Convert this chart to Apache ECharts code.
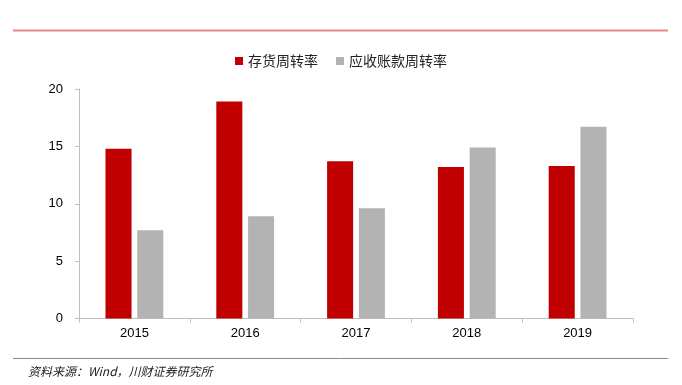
<!DOCTYPE html>
<html>
<head>
<meta charset="utf-8">
<script src="https://cdn.jsdelivr.net/npm/echarts@6/dist/echarts.min.js"></script>
<style>html,body{margin:0;padding:0;background:#fff}#c{width:682px;height:385px}</style>
</head>
<body>
<div id="c"></div>
<script>
var categories = ['2015', '2016', '2017', '2018', '2019'];
var inventoryTurnover = [14.8, 18.9, 13.7, 13.2, 13.3];
var receivableTurnover = [7.7, 8.9, 9.6, 14.9, 16.7];
var seriesNames = ['存货周转率', '应收账款周转率'];
var yTicks = { min: 0, max: 20, interval: 5 };
var sourceText = '资料来源：Wind，川财证券研究所';

var chart = echarts.init(document.getElementById('c'));
var axisColor = '#bfbfbf';
chart.setOption({
  animation: false,
  backgroundColor: '#fff',
  grid: { left: 79, right: 49, top: 89, bottom: 66.5 },
  legend: {
    top: 49, left: 'center',
    itemWidth: 8, itemHeight: 8, itemGap: 18,
    icon: 'rect',
    textStyle: { fontFamily: 'Noto Sans CJK SC', fontSize: 14, color: '#222' },
    data: seriesNames
  },
  xAxis: {
    type: 'category',
    data: categories,
    axisLine: { lineStyle: { color: axisColor, width: 1 } },
    axisTick: { show: true, length: 4, lineStyle: { color: axisColor } },
    axisLabel: { fontFamily: 'Liberation Sans', fontSize: 13, color: '#000', margin: 8 }
  },
  yAxis: {
    type: 'value',
    min: yTicks.min, max: yTicks.max, interval: yTicks.interval,
    axisLine: { show: true, lineStyle: { color: axisColor } },
    axisTick: { show: true, length: 4, lineStyle: { color: axisColor } },
    splitLine: { show: false },
    axisLabel: { fontFamily: 'Liberation Sans', fontSize: 13, color: '#000', margin: 16 }
  },
  series: [
    { name: seriesNames[0], type: 'bar', data: inventoryTurnover, barWidth: '23.5%', barGap: '22%',
      itemStyle: { color: '#c00000' } },
    { name: seriesNames[1], type: 'bar', data: receivableTurnover, barWidth: '23.5%', barGap: '22%',
      itemStyle: { color: '#b3b3b3' } }
  ],
  graphic: [
    { type: 'line', shape: { x1: 13, y1: 30.5, x2: 668, y2: 30.5 }, style: { stroke: '#e3888c', lineWidth: 2 } },
    { type: 'line', shape: { x1: 13, y1: 358.5, x2: 668, y2: 358.5 }, style: { stroke: '#888', lineWidth: 1 } },
    { type: 'text', left: 28, top: 365, style: { text: sourceText, font: 'italic 12px "Noto Sans CJK SC"', fill: '#222' } }
  ]
});
</script>
</body>
</html>
